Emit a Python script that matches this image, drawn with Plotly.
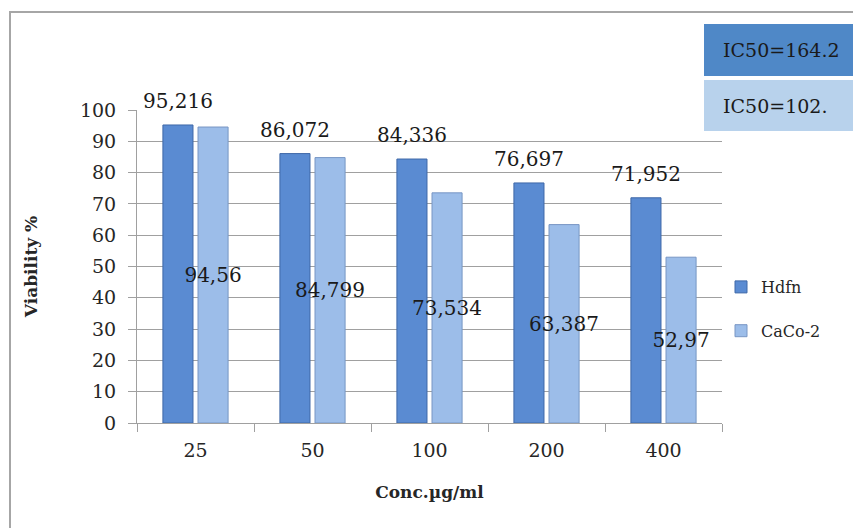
import plotly.graph_objects as go

categories = ["25", "50", "100", "200", "400"]
hdfn = [95.216, 86.072, 84.336, 76.697, 71.952]
caco2 = [94.56, 84.799, 73.534, 63.387, 52.97]
hdfn_labels = ["95,216", "86,072", "84,336", "76,697", "71,952"]
caco2_labels = ["94,56", "84,799", "73,534", "63,387", "52,97"]
ic50_texts = ["IC50=164.2", "IC50=102."]
series_names = ["Hdfn", "CaCo-2"]

FONT = "DejaVu Serif"
OFF = 8  # default page body margin
W, H = 861 - OFF, 528 - OFF
# plot area in window pixels: x 137..722, y 110..423
L, R, T, B = 137 - OFF, 861 - 722, 110 - OFF, 528 - 423
pw, ph = W - L - R, H - T - B

def px_x(p):
    return (p - OFF - L) / pw

def px_y(p):
    return (H - B - (p - OFF)) / ph

fig = go.Figure()
fig.add_trace(go.Bar(
    x=categories, y=hdfn, name=series_names[0], legendgroup="a",
    marker=dict(color="#5a8bd2", line=dict(color="#3f68a8", width=1)),
))
fig.add_trace(go.Bar(
    x=categories, y=caco2, name=series_names[1], legendgroup="b",
    marker=dict(color="#9cbde9", line=dict(color="#7896c4", width=1)),
    text=caco2_labels, textposition="inside", insidetextanchor="middle",
    textangle=0, constraintext="none",
    textfont=dict(family=FONT, size=20, color="#1a1a1a"),
))

annotations = []
for i, (v, t) in enumerate(zip(hdfn, hdfn_labels)):
    annotations.append(dict(
        x=i, y=v, text=t, showarrow=False, xshift=-17.5, yshift=10,
        yanchor="bottom", xanchor="center",
        font=dict(family=FONT, size=20, color="#1a1a1a"),
    ))

# IC50 boxes
box_colors = ["#4f88c7", "#b8d2ec"]
box_tops = [24, 80]
box_bottoms = [76, 131]
shapes = []
for txt, col, t0, b0 in zip(ic50_texts, box_colors, box_tops, box_bottoms):
    shapes.append(dict(type="rect", xref="paper", yref="paper",
                       x0=px_x(704), x1=px_x(870), y0=px_y(b0), y1=px_y(t0),
                       fillcolor=col, line=dict(width=0), layer="above"))
    annotations.append(dict(
        xref="paper", yref="paper", x=px_x(721), y=px_y((t0 + b0) / 2),
        xanchor="left", yanchor="middle", text=txt, showarrow=False,
        font=dict(family=FONT, size=19, color="#1a1a1a"),
    ))

# outer chart border
shapes.insert(0, dict(type="rect", xref="paper", yref="paper",
                      x0=px_x(10), x1=px_x(900), y0=px_y(560), y1=px_y(12),
                      line=dict(color="#a6a6a6", width=2), fillcolor="rgba(0,0,0,0)",
                      layer="below"))

fig.update_layout(
    width=W, height=H,
    margin=dict(l=L, r=R, t=T, b=B, autoexpand=False),
    paper_bgcolor="white", plot_bgcolor="white",
    barmode="group", bargap=0.40, bargroupgap=0.143,
    font=dict(family=FONT, size=19, color="#262626"),
    showlegend=True,
    legend=dict(x=px_x(721), xanchor="left", y=px_y(309), yanchor="middle",
                font=dict(family=FONT, size=16, color="#262626"),
                traceorder="grouped", tracegroupgap=20,
                itemwidth=30, bgcolor="rgba(0,0,0,0)"),
    annotations=annotations,
    shapes=shapes,
)
fig.update_xaxes(
    type="category", range=[-0.5, len(categories) - 0.5], showgrid=False,
    automargin=False,
    showline=True, linecolor="#a0a0a0", linewidth=1,
    ticks="outside", tickson="boundaries", ticklen=8, tickcolor="#a0a0a0",
    ticklabelstandoff=10,
    tickfont=dict(family=FONT, size=19, color="#262626"),
    title=dict(text="<b>Conc.µg/ml</b>", font=dict(family=FONT, size=17, color="#262626"),
               standoff=26),
)
fig.update_yaxes(
    range=[0, 100], dtick=10, showgrid=True, gridcolor="#a0a0a0", gridwidth=1,
    automargin=False,
    showline=True, linecolor="#a0a0a0", linewidth=1,
    ticks="outside", ticklen=8, tickcolor="#a0a0a0",
    ticklabelstandoff=8,
    tickfont=dict(family=FONT, size=19, color="#262626"),
    zeroline=False,
    title=dict(text="<b>Viability %</b>", font=dict(family=FONT, size=17, color="#262626"),
               standoff=37),
)
for tr in fig.data:
    tr.cliponaxis = False

fig.write_html("out.html")
